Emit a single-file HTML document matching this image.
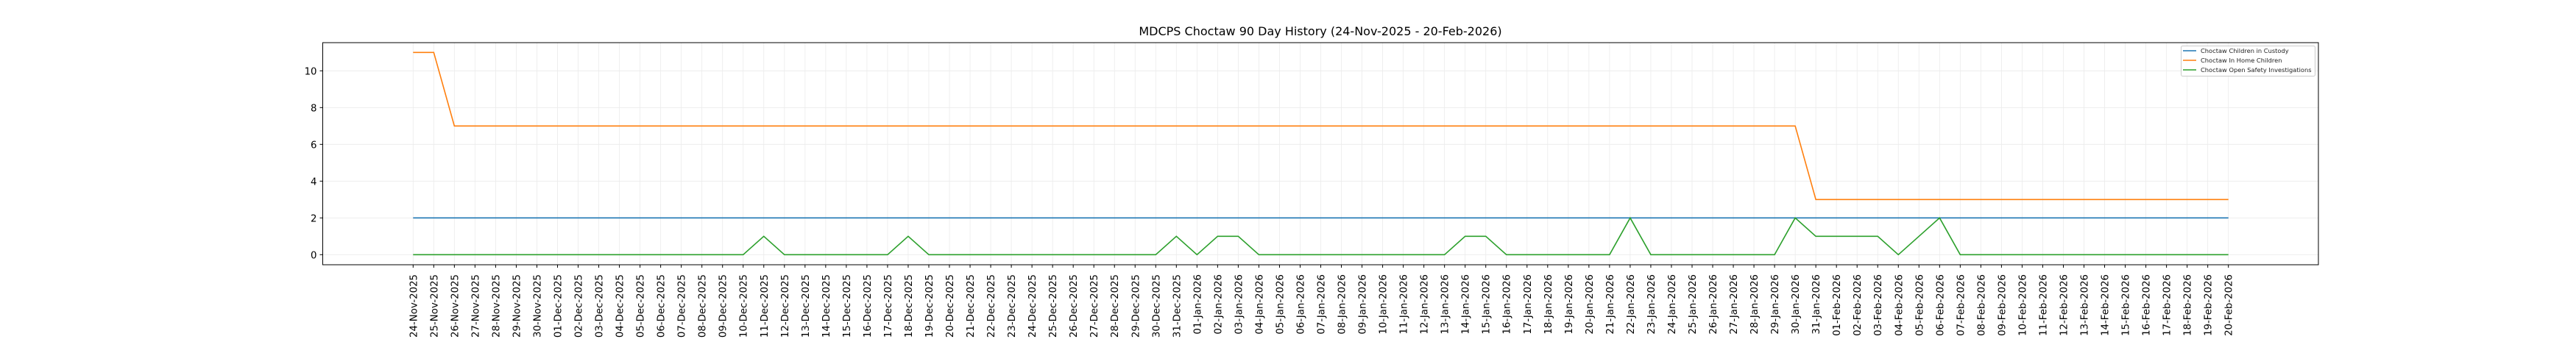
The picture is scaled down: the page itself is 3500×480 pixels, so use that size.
<!DOCTYPE html>
<html><head><meta charset="utf-8"><style>
html,body{margin:0;padding:0;background:#fff;}
svg{display:block;font-family:"DejaVu Sans","Liberation Sans",sans-serif;}
</style></head><body>
<svg id="s" width="3500" height="480" xmlns="http://www.w3.org/2000/svg"></svg>
<script>
const s=document.getElementById('s');
const L=438.5,R=3150,T=58,B=360,x0=561.3,dx=(3027.7-561.3)/88;
const y=v=>346.3-25*v;
let h='';
h+=`<rect x="0" y="0" width="3500" height="480" fill="#fff"/>`;
h+=`<text x="1794" y="48" font-size="16" text-anchor="middle">MDCPS Choctaw 90 Day History (24-Nov-2025 - 20-Feb-2026)</text>`;
const mon=['Jan','Feb','Mar','Apr','May','Jun','Jul','Aug','Sep','Oct','Nov','Dec'];
const d0=new Date(Date.UTC(2025,10,24));
for(let i=0;i<89;i++){
  const x=x0+i*dx;
  h+=`<line x1="${x}" y1="${T}" x2="${x}" y2="${B}" stroke="#ebebeb" stroke-width="0.8"/>`;
}
for(let v=0;v<=10;v+=2){
  h+=`<line x1="${L}" y1="${y(v)}" x2="${R}" y2="${y(v)}" stroke="#ebebeb" stroke-width="0.8"/>`;
  h+=`<line x1="${L-4}" y1="${y(v)}" x2="${L}" y2="${y(v)}" stroke="#000"/>`;
  h+=`<text x="${L-8}" y="${y(v)+5}" font-size="13.3" text-anchor="end">${v}</text>`;
}
for(let i=0;i<89;i++){
  const x=x0+i*dx;
  const d=new Date(d0.getTime()+i*86400000);
  const lab=String(d.getUTCDate()).padStart(2,'0')+'-'+mon[d.getUTCMonth()]+'-'+d.getUTCFullYear();
  h+=`<line x1="${x}" y1="${B}" x2="${x}" y2="${B+4}" stroke="#000"/>`;
  h+=`<text transform="translate(${x+5},${B+13}) rotate(-90)" font-size="13.3" text-anchor="end">${lab}</text>`;
}
const blue=Array(89).fill(2);
const orange=[];for(let i=0;i<89;i++)orange.push(i<2?11:(i<68?7:3));
const green=Array(89).fill(0);
const gs={17:1,24:1,37:1,39:1,40:1,51:1,52:1,59:2,67:2,68:1,69:1,70:1,71:1,73:1,74:2};
for(const k in gs)green[k]=gs[k];
function pl(a,c){return `<polyline fill="none" stroke="${c}" stroke-width="1.6" points="${a.map((v,i)=>(x0+i*dx).toFixed(2)+','+y(v)).join(' ')}"/>`;}
h+=pl(blue,'#1f77b4')+pl(orange,'#ff7f0e')+pl(green,'#2ca02c');
h+=`<rect x="${L}" y="${T}" width="${R-L}" height="${B-T}" fill="none" stroke="#000" stroke-width="1"/>`;
h+=`<rect x="2963.5" y="62.5" width="182" height="41" rx="2" fill="#fff" fill-opacity="0.8" stroke="#ccc"/>`;
const items=[['#1f77b4','Choctaw Children in Custody'],['#ff7f0e','Choctaw In Home Children'],['#2ca02c','Choctaw Open Safety Investigations']];
items.forEach((it,k)=>{const yy=69+k*13;
 h+=`<line x1="2966" y1="${yy}" x2="2984" y2="${yy}" stroke="${it[0]}" stroke-width="1.6"/>`;
 h+=`<text x="2990" y="${yy+3}" font-size="8.3" fill="#222">${it[1]}</text>`;});
s.innerHTML=h;
</script>
</body></html>
